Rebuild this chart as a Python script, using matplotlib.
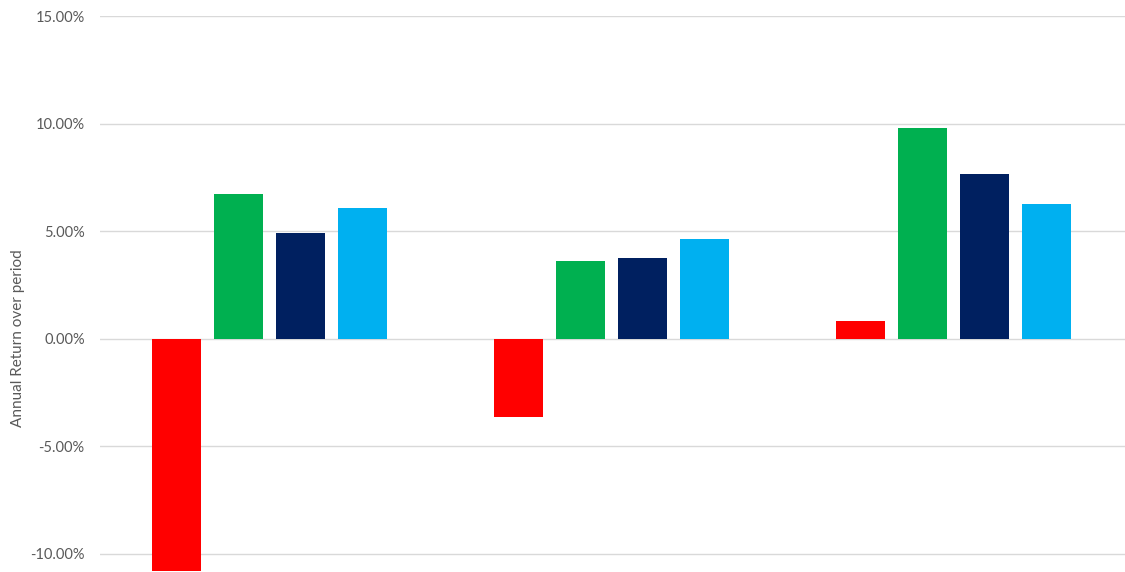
import matplotlib
matplotlib.use("Agg")
import matplotlib.pyplot as plt
import numpy as np
from matplotlib.ticker import FuncFormatter

# values in percent
groups = ["Period 1", "Period 2", "Period 3"]
series_red = [-10.78, -3.63, 0.84]
series_green = [6.74, 3.63, 9.79]
series_navy = [4.93, 3.77, 7.67]
series_lightblue = [6.09, 4.65, 6.28]
colors = ["#FF0000", "#00B050", "#002060", "#00B0F0"]

plt.rcParams["font.family"] = ["Lato", "DejaVu Sans"]

fig = plt.figure(figsize=(11.25, 5.72), dpi=100)
ax = fig.add_axes([100 / 1125, 0, 1026 / 1125, 556 / 572])

x = np.arange(len(groups))
step = 62 / 342
width = 49 / 342
all_series = [series_red, series_green, series_navy, series_lightblue]
for i, (vals, c) in enumerate(zip(all_series, colors)):
    ax.bar(x + (i - 1.5) * step - 0.005, vals, width, color=c, zorder=3)

ax.set_xlim(-0.5, 2.5)
ax.set_ylim(-10.84, 15)
ax.set_yticks([-10, -5, 0, 5, 10, 15])
ax.yaxis.set_major_formatter(FuncFormatter(lambda v, p: f"{v:.2f}%"))
ax.grid(axis="y", color="#D9D9D9", linewidth=1, zorder=0)
ax.set_xticks([])
for s in ax.spines.values():
    s.set_visible(False)
ax.tick_params(axis="y", length=0, pad=11, labelsize=10.5, labelcolor="#595959")

fig.text(18 / 1125, 1 - 338 / 572, "Annual Return over period", rotation=90,
         ha="center", va="center", fontsize=11, color="#595959")

fig.savefig("out.png", dpi=100)
